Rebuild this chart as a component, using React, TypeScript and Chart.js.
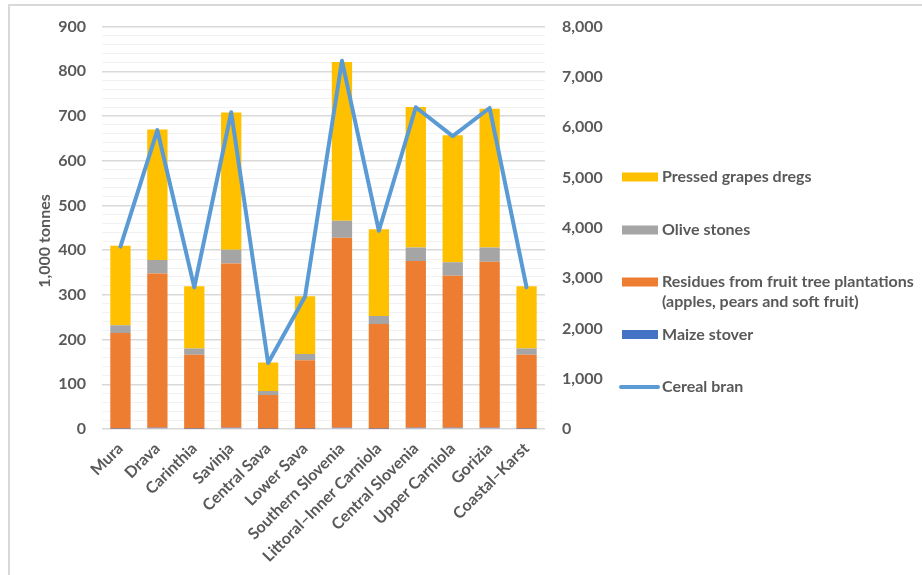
import React, { useEffect, useRef } from "react";
import { Chart, registerables } from "chart.js";

Chart.register(...registerables);

const categories = [
  "Mura",
  "Drava",
  "Carinthia",
  "Savinja",
  "Central Sava",
  "Lower Sava",
  "Southern Slovenia",
  "Littoral–Inner Carniola",
  "Central Slovenia",
  "Upper Carniola",
  "Gorizia",
  "Coastal–Karst",
];

const maizeStover = [0.5, 3, 0.5, 3, 0.5, 0.5, 3, 0.5, 3, 3, 3, 0.5];
const fruitResidues = [214, 345, 165.5, 367, 75.5, 153.5, 425, 234.5, 373, 340, 371, 165.5];
const oliveStones = [17.5, 30, 14, 31, 9, 14, 38, 18, 30, 30, 32, 14];
const grapeDregs = [178, 292, 139, 307, 64, 129, 355, 194, 314, 284, 310, 139];
const cerealBran = [3624, 5941, 2818, 6297, 1313, 2634, 7321, 3941, 6396, 5822, 6382, 2818];

const leftTicksMax = 900;
const rightTicksMax = 8000;

const legendItems = [
  { label: ["Pressed grapes dregs"], color: "#ffc000", kind: "box" },
  { label: ["Olive stones"], color: "#a5a5a5", kind: "box" },
  {
    label: ["Residues from fruit tree plantations", "(apples, pears and soft fruit)"],
    color: "#ed7d31",
    kind: "box",
  },
  { label: ["Maize stover"], color: "#4472c4", kind: "box" },
  { label: ["Cereal bran"], color: "#5b9bd5", kind: "line" },
];

const FONT_FAMILY = "Lato, 'Open Sans', sans-serif";
const TEXT_COLOR = "#595959";
const FONT_SIZE = 16;

export default function App() {
  const canvasRef = useRef<HTMLCanvasElement | null>(null);

  useEffect(() => {
    const canvas = canvasRef.current;
    if (!canvas) return;

    const extrasPlugin = {
      id: "extras",
      afterDraw(chart: any) {
        const ctx = chart.ctx as CanvasRenderingContext2D;
        ctx.save();
        // axis title
        ctx.fillStyle = TEXT_COLOR;
        ctx.font = `bold ${FONT_SIZE}px ${FONT_FAMILY}`;
        ctx.textAlign = "center";
        ctx.textBaseline = "middle";
        ctx.translate(45, 241);
        ctx.rotate(-Math.PI / 2);
        ctx.fillText("1,000 tonnes", 0, 0);
        ctx.restore();

        // legend
        ctx.save();
        const ys = [177, 230, 282, 334.5, 387];
        ctx.font = `bold ${FONT_SIZE}px ${FONT_FAMILY}`;
        ctx.textAlign = "left";
        ctx.textBaseline = "middle";
        legendItems.forEach((item, i) => {
          const y = ys[i];
          if (item.kind === "box") {
            ctx.fillStyle = item.color;
            ctx.fillRect(622, y - 4.5, 36, 9);
          } else {
            ctx.strokeStyle = item.color;
            ctx.lineWidth = 4;
            ctx.lineCap = "round";
            ctx.beginPath();
            ctx.moveTo(621, y);
            ctx.lineTo(658, y);
            ctx.stroke();
          }
          ctx.fillStyle = TEXT_COLOR;
          item.label.forEach((line, j) => {
            ctx.fillText(line, 662, y + j * 20);
          });
        });
        ctx.restore();
      },
    };

    const chart = new Chart(canvas, {
      type: "bar",
      data: {
        labels: categories,
        datasets: [
          {
            type: "line",
            label: "Cereal bran",
            data: cerealBran,
            yAxisID: "y1",
            borderColor: "#5b9bd5",
            backgroundColor: "#5b9bd5",
            borderWidth: 4,
            pointRadius: 0,
            tension: 0,
            borderJoinStyle: "round",
            borderCapStyle: "round",
            order: 0,
          } as any,
          {
            label: "Maize stover",
            data: maizeStover,
            backgroundColor: "#4472c4",
            yAxisID: "y",
            stack: "s",
            order: 1,
          },
          {
            label: "Residues from fruit tree plantations (apples, pears and soft fruit)",
            data: fruitResidues,
            backgroundColor: "#ed7d31",
            yAxisID: "y",
            stack: "s",
            order: 1,
          },
          {
            label: "Olive stones",
            data: oliveStones,
            backgroundColor: "#a5a5a5",
            yAxisID: "y",
            stack: "s",
            order: 1,
          },
          {
            label: "Pressed grapes dregs",
            data: grapeDregs,
            backgroundColor: "#ffc000",
            yAxisID: "y",
            stack: "s",
            order: 1,
          },
        ],
      },
      options: {
        responsive: false,
        animation: false,
        devicePixelRatio: 1,
        layout: { padding: { left: 0, right: 317, top: 25, bottom: 0 } },
        datasets: {
          bar: { categoryPercentage: 1, barPercentage: 0.55 },
        },
        plugins: {
          legend: { display: false },
          tooltip: { enabled: false },
          title: { display: false },
        },
        scales: {
          x: {
            stacked: true,
            grid: { display: false, drawTicks: false },
            border: { display: false },
            ticks: {
              autoSkip: false,
              maxRotation: 45,
              minRotation: 45,
              padding: 10,
              color: TEXT_COLOR,
              font: { family: FONT_FAMILY, size: FONT_SIZE, weight: "bold" },
            },
            afterFit(scale: any) {
              scale.height = 146;
            },
          },
          y: {
            stacked: true,
            position: "left",
            min: 0,
            max: leftTicksMax,
            grid: {
              drawTicks: false,
              color: (ctx: any) =>
                ctx.tick && ctx.tick.value % 100 === 0 ? "#d9d9d9" : "#f2f2f2",
              lineWidth: (ctx: any) => (ctx.tick && ctx.tick.value % 100 === 0 ? 1.5 : 1),
            },
            border: { display: false },
            ticks: {
              stepSize: 20,
              autoSkip: false,
              padding: 16,
              color: TEXT_COLOR,
              font: { family: FONT_FAMILY, size: FONT_SIZE, weight: "bold" },
              callback: (v: any) => (Number(v) % 100 === 0 ? String(v) : ""),
            },
            afterFit(scale: any) {
              scale.width = 102;
            },
          },
          y1: {
            position: "right",
            min: 0,
            max: rightTicksMax,
            grid: { display: false, drawTicks: false },
            border: { display: false },
            ticks: {
              stepSize: 1000,
              padding: 17,
              color: TEXT_COLOR,
              font: { family: FONT_FAMILY, size: FONT_SIZE, weight: "bold" },
              callback: (v: any) => Number(v).toLocaleString("en-US"),
            },
            afterFit(scale: any) {
              scale.width = 60;
            },
          },
        },
      },
      plugins: [extrasPlugin],
    } as any);

    return () => {
      chart.destroy();
    };
  }, []);

  return (
    <div style={{ position: "absolute", left: 0, top: 0, width: 922, height: 575, background: "#fff", overflow: "hidden" }}>
      <div
        style={{
          position: "absolute",
          left: 8,
          top: 4,
          width: 914,
          height: 571,
          borderTop: "2px solid #d9d9d9",
          borderLeft: "2px solid #d9d9d9",
          boxSizing: "border-box",
        }}
      />
      <canvas
        ref={canvasRef}
        width={922}
        height={575}
        style={{ position: "absolute", left: 0, top: 0, width: 922, height: 575, display: "block" }}
      />
    </div>
  );
}
